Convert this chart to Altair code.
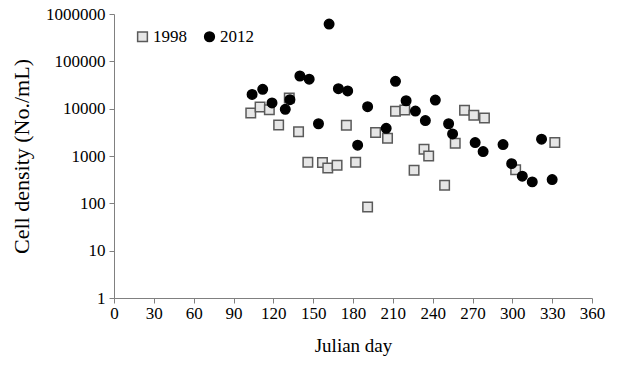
import altair as alt
import pandas as pd

# 1998 observations
day_1998 = [103, 110, 117, 124, 132, 139, 146, 157, 161, 168, 175, 182, 191, 197,
            206, 212, 219, 226, 233.5, 237, 249, 257, 264, 271, 279, 302.5, 332]
dens_1998 = [8100, 10900, 9500, 4500, 16800, 3250, 740, 725, 560, 640, 4460, 740, 84, 3120,
             2370, 8800, 9400, 500, 1390, 1000, 242, 1860, 9250, 7250, 6350, 510, 1920]

# 2012 observations
day_2012 = [104, 112, 119, 129, 132.5, 140, 147, 154, 162, 169, 176, 183.5, 191, 205,
            212, 220, 227, 234.5, 242, 252, 255, 272, 278, 293, 299.5, 307.5, 315, 322, 330]
dens_2012 = [20000, 25600, 13200, 9700, 15500, 49000, 42000, 4800, 613000, 26500, 23700, 1690,
             11000, 3850, 37800, 14700, 8900, 5600, 15200, 4800, 2930, 1920, 1240, 1740, 690,
             375, 284, 2260, 318]

years = ["1998", "2012"]
x_ticks = list(range(0, 361, 30))
y_ticks = [1, 10, 100, 1000, 10000, 100000, 1000000]

df = pd.DataFrame({
    "day": day_1998 + day_2012,
    "density": dens_1998 + dens_2012,
    "year": [years[0]] * len(day_1998) + [years[1]] * len(day_2012),
})

FONT = "Liberation Serif"

legend = alt.Legend(
    title=None, orient="none", legendX=20, legendY=14, direction="horizontal",
    labelFont=FONT, labelFontSize=17, labelColor="black", symbolSize=95,
    columnPadding=14, labelOffset=2, symbolStrokeWidth=1.5,
)

chart = alt.Chart(df).mark_point(filled=False, opacity=1, strokeWidth=1.5).encode(
    x=alt.X("day:Q", title="Julian day",
            scale=alt.Scale(domain=[0, 360], nice=False, zero=False),
            axis=alt.Axis(values=x_ticks, format="d", labelFlush=False, titleFontSize=19,
                          titlePadding=15, labelPadding=2)),
    y=alt.Y("density:Q", title="Cell density (No./mL)",
            scale=alt.Scale(type="log", domain=[1, 1000000], nice=False),
            axis=alt.Axis(values=y_ticks, format="d", labelFlush=False, titleFontSize=22,
                          titlePadding=12, labelPadding=4)),
    shape=alt.Shape("year:N", scale=alt.Scale(domain=years, range=["square", "circle"]), legend=legend),
    fill=alt.Fill("year:N", scale=alt.Scale(domain=years, range=["#e6e6e6", "#000000"]), legend=legend),
    stroke=alt.Stroke("year:N", scale=alt.Scale(domain=years, range=["#5a5a5a", "#000000"]), legend=legend),
    size=alt.value(90),
).properties(
    width=478, height=284,
    autosize=alt.AutoSizeParams(type="none"),
    padding={"left": 114, "top": 14, "right": 40, "bottom": 67},
).configure_view(
    stroke=None
).configure_axis(
    grid=False, domainColor="#808080", tickColor="#808080", tickSize=5,
    labelFont=FONT, labelFontSize=17, labelColor="black",
    titleFont=FONT, titleFontWeight="normal", titleColor="black",
)

chart.save("out.html", embed_options={"renderer": "svg", "actions": False})
